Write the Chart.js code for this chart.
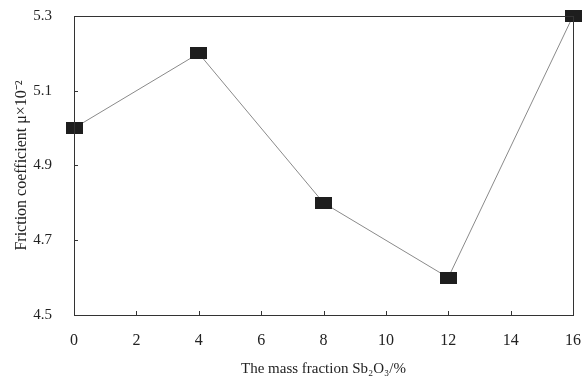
<!DOCTYPE html>
<html>
<head>
<meta charset="utf-8">
<script src="https://cdn.jsdelivr.net/npm/chart.js@4.4.0/dist/chart.umd.min.js"></script>
<style>
  html, body { margin: 0; padding: 0; background: #fff; }
  #wrap { width: 582px; height: 380px; }
</style>
</head>
<body>
<div id="wrap"><canvas id="chart" width="582" height="380"></canvas></div>
<script>
// data
var massFraction = [0, 4, 8, 12, 16];
var friction = [5.0, 5.2, 4.8, 4.6, 5.3];
var xTicks = [0, 2, 4, 6, 8, 10, 12, 14, 16];
var yTicks = [4.5, 4.7, 4.9, 5.1, 5.3];

var points = [];
for (var i in massFraction) {
    points.push({ x: massFraction[i], y: friction[i] });
}

// black rectangle marker, a bit wider than tall
var marker = document.createElement('canvas');
marker.width = 17;
marker.height = 12;
var mctx = marker.getContext('2d');
mctx.fillStyle = '#1e1e1e';
mctx.fillRect(0, 0, 17, 12);

// frame round the plot and small inward ticks
var framePlugin = {
    id: 'frame',
    afterDatasetsDraw: function (chart) {
        var ctx = chart.ctx;
        var a = chart.chartArea;
        var xs = chart.scales.x, ys = chart.scales.y;
        ctx.save();
        ctx.strokeStyle = '#333';
        ctx.lineWidth = 1;
        ctx.strokeRect(a.left + 0.5, a.top + 0.5, a.right - a.left, a.bottom - a.top);
        ctx.beginPath();
        xTicks.forEach(function (v) {
            var px = Math.round(xs.getPixelForValue(v)) + 0.5;
            ctx.moveTo(px, a.bottom);
            ctx.lineTo(px, a.bottom - 4);
        });
        yTicks.forEach(function (v) {
            var py = Math.round(ys.getPixelForValue(v)) + 0.5;
            ctx.moveTo(a.left, py);
            ctx.lineTo(a.left + 4, py);
        });
        ctx.stroke();
        ctx.restore();
    }
};

var ctx = document.getElementById('chart');
var chart = new Chart(ctx, {
    type: 'scatter',
    data: {
        datasets: [{
            data: points,
            showLine: true,
            borderColor: '#8a8a8a',
            borderWidth: 1,
            pointStyle: marker,
            pointRadius: 8,
            clip: false
        }]
    },
    options: {
        responsive: false,
        animation: false,
        layout: { padding: { left: 0, right: 9, top: 16, bottom: 0 } },
        plugins: {
            legend: { display: false },
            tooltip: { enabled: false }
        },
        scales: {
            x: {
                type: 'linear',
                min: 0,
                max: 16,
                afterFit: function (s) {
                    s.height = 65;
                    s.paddingLeft = 0;
                    s.paddingRight = 0;
                },
                afterBuildTicks: function (s) {
                    s.ticks = xTicks.map(function (v) { return { value: v }; });
                },
                grid: { display: false, drawTicks: false },
                border: { display: false },
                ticks: {
                    padding: 16,
                    color: '#222',
                    font: { family: 'Liberation Serif', size: 16 }
                },
                title: {
                    display: true,
                    text: 'The mass fraction Sb\u2082O\u2083/%',
                    color: '#222',
                    padding: { top: 2, bottom: 2 },
                    font: { family: 'Liberation Serif', size: 15 }
                }
            },
            y: {
                min: 4.5,
                max: 5.3,
                afterFit: function (s) {
                    s.width = 74;
                    s.paddingTop = 0;
                    s.paddingBottom = 0;
                },
                afterBuildTicks: function (s) {
                    s.ticks = yTicks.map(function (v) { return { value: v }; });
                },
                grid: { display: false, drawTicks: false },
                border: { display: false },
                ticks: {
                    padding: 22,
                    color: '#222',
                    font: { family: 'Liberation Serif', size: 15 },
                    callback: function (v) { return Number(v).toFixed(1); }
                },
                title: {
                    display: true,
                    text: 'Friction coefficient \u03bc\u00d710\u207b\u00b2',
                    color: '#222',
                    padding: { top: 12, bottom: 0 },
                    font: { family: 'Liberation Serif', size: 16 }
                }
            }
        }
    },
    plugins: [framePlugin]
});
</script>
</body>
</html>
